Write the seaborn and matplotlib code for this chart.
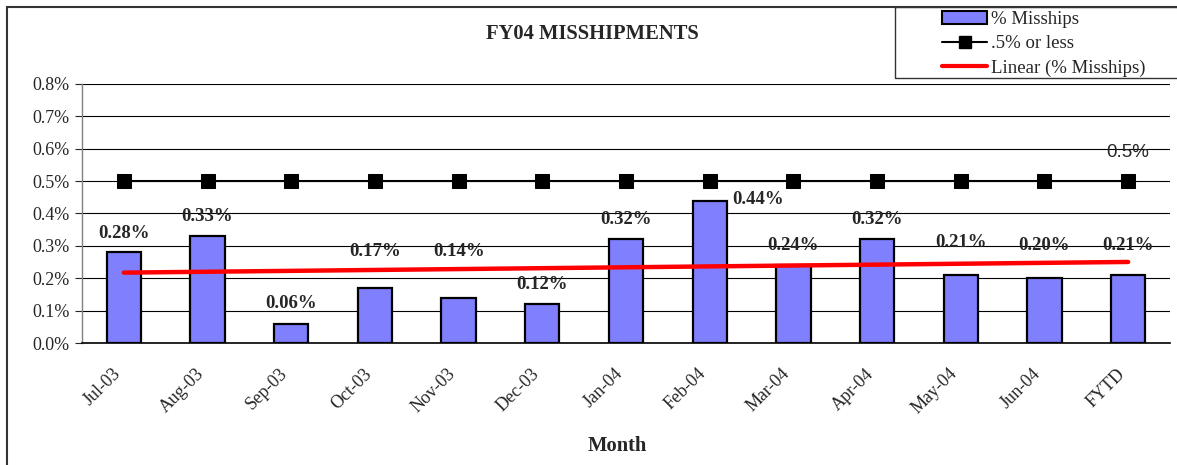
import numpy as np
import pandas as pd
import matplotlib
matplotlib.use('Agg')
import matplotlib.pyplot as plt
import matplotlib.transforms as mtransforms
from matplotlib.patches import Patch, Rectangle
from matplotlib.lines import Line2D
from matplotlib.ticker import FixedLocator, FuncFormatter
import seaborn as sns

months = ['Jul-03', 'Aug-03', 'Sep-03', 'Oct-03', 'Nov-03', 'Dec-03', 'Jan-04',
          'Feb-04', 'Mar-04', 'Apr-04', 'May-04', 'Jun-04', 'FYTD']
misships = [0.28, 0.33, 0.06, 0.17, 0.14, 0.12, 0.32, 0.44, 0.24, 0.32, 0.21, 0.20, 0.21]
target = [0.5] * len(months)

# label nudges in pixels (Excel labels were dragged by hand)
label_dy = [19, 20, 20, 36, 46, 20, 20, 1, 20, 20, 33, 33, 30]
label_dx = [0, 0, 0, 0, 0, 0, 0, 48, 0, 0, 0, 0, 0]

sns.set_style('white')
plt.rcParams['font.family'] = ['Liberation Serif', 'DejaVu Serif']

df = pd.DataFrame({'month': months, 'misships': misships, 'target': target})
df['pos'] = np.arange(len(df))

fig = plt.figure(figsize=(11.77, 4.65), dpi=100)
ax = fig.add_axes([82 / 1177, 1 - 343 / 465, (1170 - 82) / 1177, (343 - 84) / 465])

sns.barplot(data=df, x='month', y='misships', color='#8080FF', saturation=1,
            width=0.41, edgecolor='black', linewidth=1.6, ax=ax, zorder=3)
sns.regplot(data=df, x='pos', y='misships', scatter=False, ci=None, truncate=True,
            line_kws={'color': '#FF0000', 'lw': 3.2, 'zorder': 5}, ax=ax)
sns.lineplot(data=df, x='pos', y='target', color='black', lw=1.5, marker='s',
             markersize=10, markeredgecolor='black', ax=ax, zorder=4)

for i, v in enumerate(misships):
    ax.annotate(f'{v:.2f}%', (i, v), xytext=(label_dx[i], label_dy[i]),
                textcoords='offset pixels', ha='center', va='center',
                fontsize=13.5, fontweight='bold')
ax.annotate('0.5%', (len(months) - 1, target[-1]), xytext=(0, 29),
            textcoords='offset pixels', ha='center', va='center',
            fontsize=13.5, family='Liberation Sans')

ax.set_xlim(-0.5, len(months) - 0.5)
ax.set_ylim(0, 0.8)
ax.yaxis.set_major_locator(FixedLocator(np.arange(0, 0.81, 0.1)))
ax.yaxis.set_major_formatter(FuncFormatter(lambda v, p: f'{v:.1f}%'))
ax.grid(axis='y', color='black', lw=0.8, zorder=0)
ax.set_axisbelow(True)

ax.set_xticks(np.arange(len(months)))
ax.set_xticklabels(months, rotation=45, ha='right', rotation_mode='anchor')
ax.set_xticks(np.arange(-0.5, len(months), 1), minor=True)
ax.tick_params(axis='x', which='major', length=0, pad=16, labelsize=13)
ax.tick_params(axis='x', which='minor', length=10, direction='inout', width=0.8)
ax.tick_params(axis='y', which='major', length=5, direction='out', width=0.8,
               labelsize=13, left=True, pad=4)
shift = mtransforms.ScaledTranslation(-12 / 100, 0, fig.dpi_scale_trans)
for lbl in ax.get_xticklabels():
    lbl.set_transform(lbl.get_transform() + shift)

for s in ['top', 'right']:
    ax.spines[s].set_visible(False)
ax.spines['left'].set_color('#808080')
ax.spines['left'].set_linewidth(1.0)
ax.spines['bottom'].set_color('black')
ax.spines['bottom'].set_linewidth(1.2)
ax.set_xlabel('')
ax.set_ylabel('')

fig.text(592 / 1177, 1 - 34 / 465, 'FY04 MISSHIPMENTS', ha='center', va='center',
         fontsize=14.8, fontweight='bold')
fig.text(617 / 1177, 1 - 446 / 465, 'Month', ha='center', va='center',
         fontsize=14.8, fontweight='bold')

# outer chart border and legend box
fig.add_artist(Rectangle((7 / 1177, -0.1), 1.2, 1 - 7 / 465 + 0.1,
                         transform=fig.transFigure, fill=False, ec='#333333', lw=1.5))
fig.add_artist(Rectangle((895 / 1177, 1 - 78 / 465), 0.3, 71 / 465,
                         transform=fig.transFigure, fill=False, ec='#333333', lw=1.0))

handles = [Patch(facecolor='#8080FF', edgecolor='black', lw=1.5),
           Line2D([], [], color='black', lw=1.5, marker='s', markersize=9),
           Line2D([], [], color='#FF0000', lw=3)]
fig.legend(handles, ['% Misships', '.5% or less', 'Linear (% Misships)'],
           loc='center left', bbox_to_anchor=(933 / 1177, 1 - 44 / 465),
           frameon=False, fontsize=13.5, handlelength=2.4, handletextpad=0.2,
           labelspacing=0.38, borderpad=0)

fig.savefig('out.png', dpi=100)
